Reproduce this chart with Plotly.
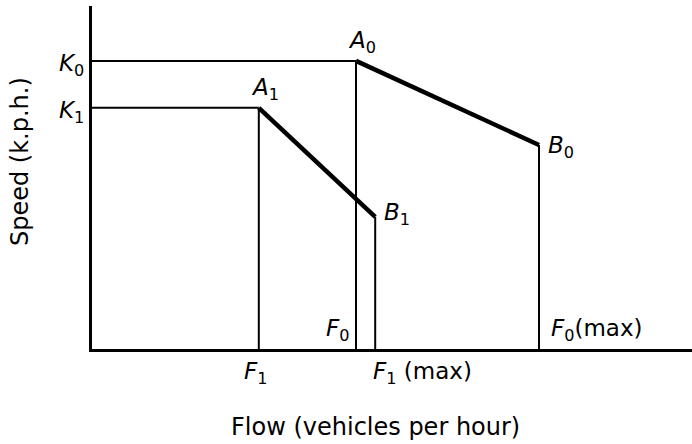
import plotly.graph_objects as go

# Flow positions (arbitrary units along the flow axis)
flow_names = ["F1", "F0", "F1max", "F0max"]
flow_values = [27.8, 44.0, 47.2, 74.5]
# Speed levels (arbitrary units along the speed axis)
speed_names = ["K0", "K1", "B1", "B0"]
speed_values = [84.0, 70.3, 38.5, 59.5]

F1, F0, F1max, F0max = flow_values
K0, K1, SB1, SB0 = speed_values

# curve 0: K0 -> A0 -> B0 ; curve 1: K1 -> A1 -> B1
curve0_flow = [0, F0, F0max]
curve0_speed = [K0, K0, SB0]
curve1_flow = [0, F1, F1max]
curve1_speed = [K1, K1, SB1]

FONT = "DejaVu Sans"
fig = go.Figure()

thin = dict(color="black", width=2)
thick = dict(color="black", width=4.5)

def seg(xs, ys, line):
    fig.add_trace(go.Scatter(x=xs, y=ys, mode="lines", line=line,
                             hoverinfo="skip", showlegend=False, cliponaxis=False))

for cf, cs in [(curve0_flow, curve0_speed), (curve1_flow, curve1_speed)]:
    seg(cf[:2], cs[:2], thin)                       # horizontal K -> A
    seg([cf[1], cf[1]], [cs[1], 0], thin)            # vertical from A
    seg(cf[1:], cs[1:], thick)                       # A -> B
    seg([cf[2], cf[2]], [cs[2], 0], thin)            # vertical from B

ann = []
def lab(text, x, y, xa, ya, xs, ys):
    ann.append(dict(text=text, x=x, y=y, xref="x", yref="y", showarrow=False,
                    xanchor=xa, yanchor=ya, xshift=xs, yshift=ys,
                    font=dict(family=FONT, size=23, color="black")))

lab("<i>K</i><sub>0</sub>", 0, K0, "right", "middle", -6, -4)
lab("<i>K</i><sub>1</sub>", 0, K1, "right", "middle", -6, -4)
lab("<i>A</i><sub>0</sub>", F0, K0, "left", "bottom", -10, 2)
lab("<i>A</i><sub>1</sub>", F1, K1, "left", "bottom", -10, 2)
lab("<i>B</i><sub>0</sub>", F0max, SB0, "left", "middle", 7, -2)
lab("<i>B</i><sub>1</sub>", F1max, SB1, "left", "middle", 7, 3)
lab("<i>F</i><sub>0</sub>", F0, 0, "right", "bottom", -5, 2)
lab("<i>F</i><sub>0</sub>(max)", F0max, 0, "left", "bottom", 10, 2)
lab("<i>F</i><sub>1</sub>", F1, 0, "center", "top", -3, -7)
lab("<i>F</i><sub>1</sub> (max)", F1max, 0, "left", "top", -4, -7)

ann.append(dict(text="Speed (k.p.h.)", x=-0.12, y=0.545, xref="paper", yref="paper",
                showarrow=False, textangle=-90, xanchor="center", yanchor="middle",
                font=dict(family=FONT, size=24, color="black")))
ann.append(dict(text="Flow (vehicles per hour)", x=0.472, y=-0.227, xref="paper", yref="paper",
                showarrow=False, xanchor="center", yanchor="middle",
                font=dict(family=FONT, size=24, color="black")))

fig.update_layout(
    width=692, height=444,
    margin=dict(l=92, r=0, t=6, b=95),
    paper_bgcolor="white", plot_bgcolor="white",
    annotations=ann,
    xaxis=dict(range=[0, 100], showgrid=False, zeroline=False, showticklabels=False,
               ticks="", showline=True, linecolor="black", linewidth=3, fixedrange=True),
    yaxis=dict(range=[0, 100], showgrid=False, zeroline=False, showticklabels=False,
               ticks="", showline=True, linecolor="black", linewidth=3, fixedrange=True),
)

fig.write_html("out.html", config={"displayModeBar": False},
               post_script="document.body.style.margin='0';document.body.style.padding='0';")
